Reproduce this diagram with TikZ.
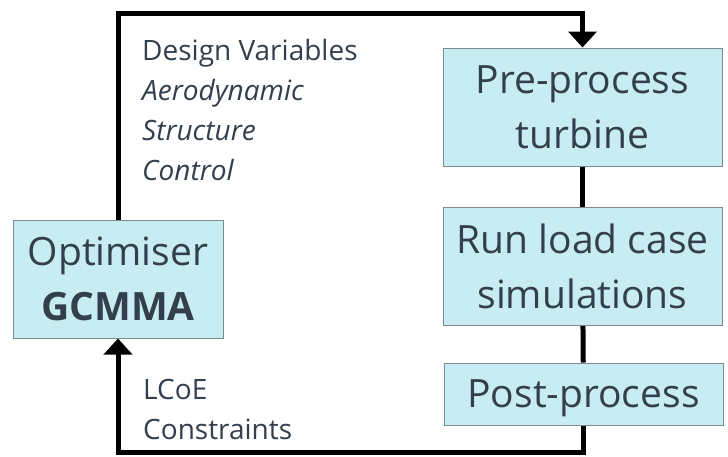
\documentclass[tikz,border=0pt]{standalone}
\usepackage{fontspec}
\setmainfont{Open Sans}
\usetikzlibrary{arrows.meta}
\definecolor{StepFill}{HTML}{C7ECF1}
\definecolor{StepEdge}{HTML}{7E8A90}
\definecolor{LabelText}{HTML}{333F4C}

\begin{document}
\begin{tikzpicture}[x=1pt, y=-1pt,
    process/.style={draw=StepEdge, line width=1pt, fill=StepFill, text=LabelText,
        align=center, inner sep=0pt, minimum width=279pt,
        font=\fontsize{39}{55}\selectfont},
    link/.style={line width=5pt},
    flow/.style={line width=5pt, -{Triangle[width=28pt, length=16pt]}},
    note/.style={text=LabelText, anchor=north west, inner sep=0pt, align=left,
        font=\fontsize{28}{40}\selectfont}]
    \useasboundingbox (0,0) rectangle (728,456);

    % Process chain
    \node[process, minimum height=118pt] (pre) at (582.5,107) {Pre-process\\turbine};
    \node[process, minimum height=118pt] (run) at (582.5,266.5) {Run load case\\simulations};
    \node[process, minimum height=62pt, text depth=0pt] (post) at (583.5,394) {Post-process};

    % Optimiser
    \node[process, minimum width=210pt, minimum height=118pt] (opt) at (118,279)
        {Optimiser\\\textbf{GCMMA}};

    % Links inside the chain
    \draw[link] (pre) -- (run);
    \draw[link] (run) -- (post);

    % Outer loop
    \coordinate (loopTop) at (350,13);
    \coordinate (loopBot) at (350,452);
    \draw[flow] (opt.north) |- (loopTop) -| (pre.north);
    \draw[flow] (post.south) |- (loopBot) -| (opt.south);

    % Labels
    \node[note] (vars) at (142,39) {Design Variables\\\textit{Aerodynamic}\\\textit{Structure}\\\textit{Control}};
    \node[note] (outs) at (143,379) {LCoE\\Constraints};
\end{tikzpicture}
\end{document}
